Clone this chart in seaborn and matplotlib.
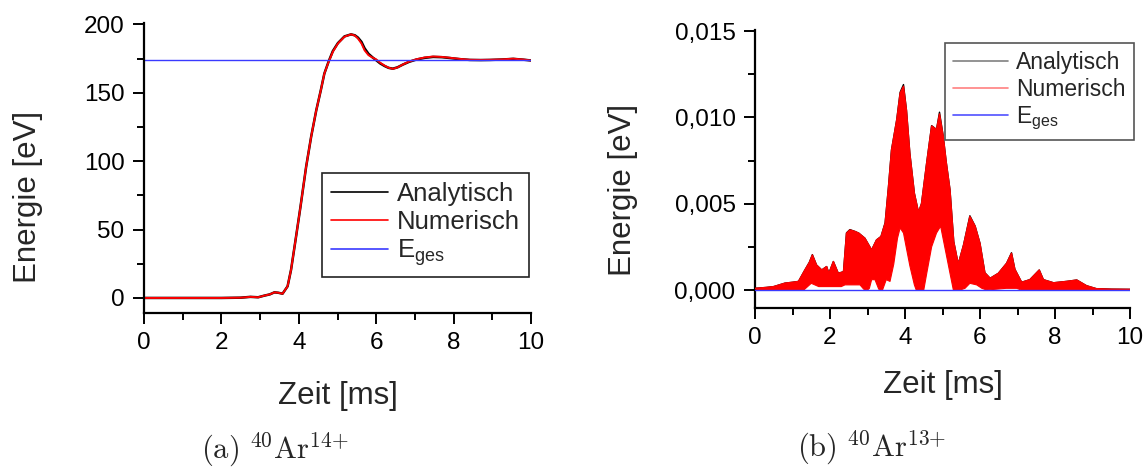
import numpy as np
import pandas as pd
import matplotlib
matplotlib.use("Agg")
import matplotlib.pyplot as plt
from matplotlib.ticker import FixedLocator, MultipleLocator
import seaborn as sns

# ---------------- data: panel (a) 40Ar14+ ----------------
t_a = [0.0, 1.0, 2.0, 2.5, 2.75, 2.95, 3.11, 3.25, 3.37, 3.47, 3.58, 3.71, 3.80,
       3.93, 4.04, 4.19, 4.32, 4.45, 4.57, 4.66, 4.77, 4.88, 5.01, 5.18, 5.35,
       5.45, 5.53, 5.62, 5.70, 5.80, 5.90, 6.0, 6.1, 6.22, 6.32, 6.43, 6.55,
       6.69, 6.85, 7.04, 7.25, 7.47, 7.7, 7.9, 8.15, 8.42, 8.7, 8.94, 9.25,
       9.54, 9.8, 10.0]
numerisch_a = [0.0, 0.0, 0.0, 0.2, 0.8, 0.5, 1.7, 2.6, 4.1, 3.8, 3.1, 8.5, 20.6,
               45.0, 66.0, 96.0, 118.0, 137.0, 152.0, 164.0, 172.5, 180.0, 186.0,
               191.0, 192.7, 191.8, 189.6, 186.0, 181.0, 177.5, 175.8, 174.4, 172.0,
               169.8, 168.3, 167.5, 168.5, 170.7, 172.8, 174.5, 175.8, 176.5, 176.2,
               175.6, 174.8, 174.1, 174.0, 174.1, 174.4, 174.9, 174.3, 173.6]
analytisch_a = [0.0, 0.0, 0.0, 0.2, 0.8, 0.5, 1.7, 2.6, 4.1, 3.8, 3.1, 8.5, 20.6,
                45.0, 66.0, 96.0, 118.0, 137.0, 152.0, 164.0, 172.8, 180.5, 186.3,
                191.2, 192.7, 192.0, 190.3, 187.2, 182.5, 178.5, 176.0, 173.8, 171.5,
                169.5, 168.2, 167.6, 168.6, 170.6, 172.6, 174.3, 175.5, 176.2, 176.0,
                175.4, 174.6, 174.0, 173.9, 174.0, 174.3, 174.8, 174.2, 173.6]
e_ges_a = 174.0

# ---------------- data: panel (b) 40Ar13+ (values in meV, scaled to eV) ----------------
t_b_up = [0.0, 0.3, 0.5, 0.8, 1.0, 1.16, 1.33, 1.45, 1.53, 1.64, 1.78, 1.91, 1.97,
          2.09, 2.22, 2.36, 2.44, 2.53, 2.67, 2.77, 2.93, 3.11, 3.24, 3.36, 3.47,
          3.56, 3.64, 3.78, 3.87, 3.96, 4.04, 4.13, 4.25, 4.36, 4.44, 4.58, 4.71,
          4.84, 4.92, 5.02, 5.1, 5.2, 5.3, 5.42, 5.56, 5.73, 5.87, 6.0, 6.13,
          6.27, 6.49, 6.71, 6.84, 6.93, 7.11, 7.33, 7.58, 7.69, 7.96, 8.31, 8.58,
          8.84, 9.1, 9.5, 10.0]
numerisch_b_up = [0.10, 0.15, 0.20, 0.40, 0.45, 0.50, 1.16, 1.60, 2.03, 1.45, 1.16,
                  1.36, 0.97, 1.65, 0.97, 1.06, 3.29, 3.48, 3.39, 3.29, 3.00, 2.32,
                  2.90, 3.10, 3.87, 6.00, 8.10, 9.87, 11.4, 11.8, 10.4, 7.90, 5.60,
                  4.50, 5.00, 7.40, 9.50, 9.30, 10.2, 8.90, 7.40, 5.80, 2.80, 1.50,
                  2.60, 4.26, 3.70, 2.70, 1.00, 0.68, 0.97, 1.55, 2.13, 1.20, 0.45,
                  0.60, 1.16, 0.60, 0.42, 0.50, 0.58, 0.25, 0.08, 0.05, 0.04]
analytisch_b_up = [0.10, 0.15, 0.20, 0.40, 0.45, 0.50, 1.16, 1.61, 2.05, 1.45, 1.16,
                   1.36, 0.97, 1.65, 0.97, 1.06, 3.31, 3.50, 3.39, 3.29, 3.00, 2.32,
                   2.90, 3.10, 3.90, 6.00, 8.12, 9.87, 11.45, 11.9, 10.4, 7.90, 5.60,
                   4.50, 5.00, 7.40, 9.52, 9.30, 10.3, 8.90, 7.40, 5.80, 2.80, 1.50,
                   2.60, 4.30, 3.70, 2.70, 1.00, 0.68, 0.97, 1.55, 2.16, 1.20, 0.45,
                   0.60, 1.16, 0.60, 0.42, 0.50, 0.58, 0.25, 0.08, 0.05, 0.04]
t_b_lo = [0.0, 1.3, 1.5, 1.7, 2.3, 2.4, 2.8, 2.9, 3.0, 3.05, 3.11, 3.2, 3.3, 3.4,
          3.5, 3.6, 3.7, 3.8, 3.87, 3.96, 4.04, 4.13, 4.25, 4.3, 4.5, 4.58, 4.71,
          4.84, 4.95, 5.06, 5.2, 5.29, 5.47, 5.6, 5.73, 5.91, 6.05, 6.18, 6.7,
          6.98, 7.1, 10.0]
numerisch_b_lo = [0.0, 0.0, 0.39, 0.2, 0.2, 0.3, 0.3, 0.05, 0.0, 0.1, 0.6, 0.6,
                  0.05, 0.0, 0.6, 0.5, 1.5, 3.0, 3.6, 3.3, 2.4, 1.4, 0.3, 0.0, 0.0,
                  0.97, 2.5, 3.3, 3.7, 2.5, 0.97, 0.0, 0.0, 0.1, 0.39, 0.3, 0.1,
                  0.0, 0.1, 0.1, 0.0, 0.0]
e_ges_b = 0.0
scale_b = 1e-3

x_span = [0.0, 10.0]
x_ticks = [0, 2, 4, 6, 8, 10]
y_ticks_a = [0, 50, 100, 150, 200]
y_ticks_b = [0.0, 0.005, 0.010, 0.015]
y_ticklabels_b = ["0,000", "0,005", "0,010", "0,015"]

# ---------------- style ----------------
sns.set_style("ticks")
plt.rcParams["font.family"] = ["Liberation Sans", "DejaVu Sans"]
plt.rcParams["mathtext.fontset"] = "custom"
plt.rcParams["mathtext.rm"] = "Liberation Sans"
plt.rcParams["mathtext.it"] = "Liberation Sans:italic"
plt.rcParams["mathtext.bf"] = "Liberation Sans:bold"

W, H = 1144, 468
fig = plt.figure(figsize=(W / 100, H / 100), dpi=100)
axL = fig.add_axes([144 / W, 1 - 313 / H, (531 - 144) / W, (313 - 23) / H])
axR = fig.add_axes([755 / W, 1 - 308 / H, (1130 - 755) / W, (308 - 30) / H])

BLUE = "#3a3aff"

# ---- panel (a)
sns.lineplot(x=t_a, y=analytisch_a, color="black", lw=1.8, estimator=None,
             label="Analytisch", ax=axL)
sns.lineplot(x=t_a, y=numerisch_a, color="#ff0000", lw=1.4, estimator=None,
             label="Numerisch", ax=axL)
sns.lineplot(x=x_span, y=[e_ges_a, e_ges_a], color=BLUE, lw=1.0, estimator=None,
             label=r"E$_{\mathrm{ges}}$", ax=axL)
axL.set_xlim(0, 10)
axL.set_ylim(-11, 201)
axL.xaxis.set_major_locator(FixedLocator(x_ticks))
axL.xaxis.set_minor_locator(MultipleLocator(1))
axL.yaxis.set_major_locator(FixedLocator(y_ticks_a))
axL.yaxis.set_minor_locator(MultipleLocator(25))

# ---- panel (b)
up_n = np.array(numerisch_b_up) * scale_b
up_a = np.array(analytisch_b_up) * scale_b
lo_n = np.array(numerisch_b_lo) * scale_b
sns.lineplot(x=t_b_up, y=up_a, color="black", lw=1.0, estimator=None,
             label="Analytisch", ax=axR)
sns.lineplot(x=t_b_up, y=up_n, color="#ff0000", lw=1.0, estimator=None,
             label="Numerisch", ax=axR)
sns.lineplot(x=t_b_lo, y=lo_n, color="#ff0000", lw=0.8, estimator=None, ax=axR)
lines_b = axR.get_lines()
lines_b[0].set_zorder(2.0)
lines_b[1].set_zorder(2.7)
lines_b[2].set_zorder(2.7)
poly_x = list(t_b_up) + list(t_b_lo[::-1])
poly_y = list(up_n) + list(lo_n[::-1])
axR.fill(poly_x, poly_y, color="#ff0000", lw=0, zorder=2.5)
sns.lineplot(x=x_span, y=[e_ges_b, e_ges_b], color=BLUE, lw=1.0, estimator=None,
             label=r"E$_{\mathrm{ges}}$", ax=axR)
axR.get_lines()[-1].set_zorder(3)
axR.set_xlim(0, 10)
axR.set_ylim(-0.00104, 0.01506)
axR.xaxis.set_major_locator(FixedLocator(x_ticks))
axR.xaxis.set_minor_locator(MultipleLocator(1))
axR.yaxis.set_major_locator(FixedLocator(y_ticks_b))
axR.yaxis.set_minor_locator(MultipleLocator(0.0025))
axR.set_yticklabels(y_ticklabels_b)

# ---- common axes styling
for ax in (axL, axR):
    sns.despine(ax=ax)
    for s in ("left", "bottom"):
        ax.spines[s].set_linewidth(1.6)
        ax.spines[s].set_color("black")
    ax.tick_params(which="major", direction="out", length=8, width=1.4,
                   labelsize=17.5, pad=6, colors="black")
    ax.tick_params(which="minor", direction="out", length=5, width=1.4,
                   colors="black")
    ax.set_xlabel("Zeit [ms]", fontsize=22.5)
    ax.set_ylabel("Energie [eV]", fontsize=22.5)

axL.xaxis.set_label_coords(0.5, -0.235)
axL.yaxis.set_label_coords(-0.262, 0.40)
axR.xaxis.set_label_coords(0.5, -0.222)
axR.yaxis.set_label_coords(-0.312, 0.424)

# ---- legends
hL, lL = axL.get_legend_handles_labels()
legL = axL.legend(hL, lL, loc="upper left", bbox_to_anchor=(322 / W, 1 - 173 / H),
                  bbox_transform=fig.transFigure, borderaxespad=0, fontsize=18.5,
                  frameon=True, fancybox=False, framealpha=1, edgecolor="#222222",
                  handlelength=2.2, handletextpad=0.35, labelspacing=0.15,
                  borderpad=0.35)
legL.get_frame().set_linewidth(1.2)
for ln in legL.get_lines():
    ln.set_linewidth(1.2)

hR, lR = axR.get_legend_handles_labels()
legR = axR.legend(hR, lR, loc="upper left", bbox_to_anchor=(945 / W, 1 - 43 / H),
                  bbox_transform=fig.transFigure, borderaxespad=0, fontsize=16.5,
                  frameon=True, fancybox=False, framealpha=1, edgecolor="#555555",
                  handlelength=2.4, handletextpad=0.35, labelspacing=0.16,
                  borderpad=0.35)
legR.get_frame().set_linewidth(1.2)
for ln, c in zip(legR.get_lines(), ["#808080", "#ff8080", "#5050ff"]):
    ln.set_color(c)
    ln.set_linewidth(1.2)

# ---- captions
fig.text(275 / W, 1 - 450 / H, r"$\mathrm{(a)}\ {}^{40}\mathrm{Ar}^{14{+}}$",
         math_fontfamily="cm", fontsize=22, ha="center", va="center")
fig.text(872 / W, 1 - 448 / H, r"$\mathrm{(b)}\ {}^{40}\mathrm{Ar}^{13{+}}$",
         math_fontfamily="cm", fontsize=22, ha="center", va="center")

fig.savefig("out.png", dpi=100)
